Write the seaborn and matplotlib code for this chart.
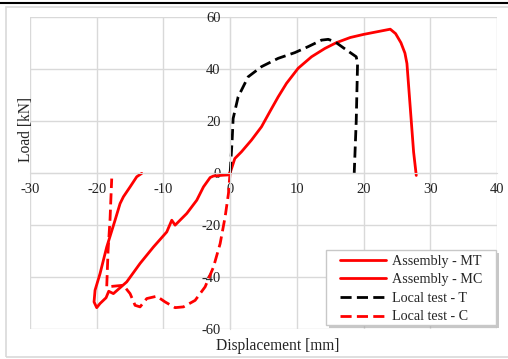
import matplotlib
matplotlib.use("Agg")
import matplotlib.pyplot as plt
import seaborn as sns
from matplotlib.lines import Line2D
from matplotlib.patches import Rectangle

# ---- data ----
mt_x = [0, 0.7, 1.7, 3.2, 4.7, 5.95, 7.2, 8.45, 10.2, 12.2, 14.2, 15.9, 18, 20, 22, 24, 24.8, 25.6,
        26.2, 26.5, 27.0, 27.5, 27.9]
mt_y = [0, 5.5, 8.1, 12.6, 17.7, 23.5, 29.2, 34.4, 40.2, 44.6, 47.8, 50, 52, 53.2, 54.2, 55.2, 53.5, 50,
        46, 42, 25, 8, -1]

mc_x = [0, -0.3, -1.0, -2.5, -3, -4, -5, -6.5, -8.25, -8.75, -9.5, -11.5, -13.5, -15.5, -17.5, -18.2,
        -18.6, -19.5, -20, -20.4, -20.25, -19.5, -18.5, -17.25, -16.5, -16, -15, -14, -13.25]
mc_y = [0, -0.8, -0.9, -1.2, -1.8, -5.4, -10.5, -15.6, -20.1, -18.2, -22.7, -28.5, -34.8, -41.9, -46.4, -45.5,
        -48, -50.2, -51.8, -49.6, -45.1, -38.7, -28.5, -18.2, -11.8, -9.2, -5.4, -1.5, -0.2]

t_x = [0, 0.3, 0.45, 1.2, 2.7, 4.7, 7.2, 9.7, 11.7, 13.7, 14.7, 15.7, 17, 18.9, 19.1, 18.9, 18.6]
t_y = [0, 12.6, 20.9, 29.2, 36.9, 40.8, 44, 46.2, 48.5, 51, 51.3, 50.4, 48, 44.6, 42, 20, 0]

c_x = [0, -0.25, -0.75, -1.5, -2.5, -3.75, -5.25, -7, -8.25, -9.75, -11, -12.5, -13.5, -14.25,
       -15, -16, -18.5, -18.3, -18.0, -17.75]
c_y = [0.5, -7.9, -16.9, -27.2, -36.2, -43.8, -49, -51.5, -51.8, -49.6, -47.4, -48.3, -51.5, -50.9,
       -46.4, -43.2, -43.8, -30, -17.7, -2.2]

x_ticks = [-30, -20, -10, 0, 10, 20, 30, 40]
y_ticks = [-60, -40, -20, 0, 20, 40, 60]
labels = ["Assembly - MT", "Assembly - MC", "Local test - T", "Local test - C"]

sns.set_style("white")
plt.rcParams["font.family"] = ["Liberation Serif", "DejaVu Serif"]
plt.rcParams["axes.unicode_minus"] = False

W, H = 508, 359
fig = plt.figure(figsize=(W / 100, H / 100), dpi=100)
ax = fig.add_axes([30 / W, 1 - 329 / H, (497 - 30) / W, (329 - 16.7) / H])

red = "#FF0000"
DASH = (4.0, 1.9)
LW = 2.0
sns.lineplot(x=mt_x, y=mt_y, sort=False, estimator=None, ax=ax, color=red, lw=LW)
sns.lineplot(x=mc_x, y=mc_y, sort=False, estimator=None, ax=ax, color=red, lw=LW)
sns.lineplot(x=t_x, y=t_y, sort=False, estimator=None, ax=ax, color="black", lw=LW)
sns.lineplot(x=c_x, y=c_y, sort=False, estimator=None, ax=ax, color=red, lw=LW)
ax.lines[2].set_dashes(DASH)
ax.lines[3].set_dashes(DASH)

ax.set_xlim(-30, 40)
ax.set_ylim(-60, 60)
ax.set_xticks(x_ticks)
ax.set_yticks(y_ticks)
ax.grid(True, color="#D9D9D9", lw=1)
ax.set_axisbelow(True)
for s in ["top", "right"]:
    ax.spines[s].set_visible(False)
ax.spines["left"].set_position(("data", 0))
ax.spines["bottom"].set_position(("data", 0))
ax.spines["left"].set_color("#D9D9D9")
ax.spines["bottom"].set_color("#D9D9D9")
ax.tick_params(length=0, labelsize=10.5, pad=7, colors="#222222")
ax.set_xlabel("")
ax.set_ylabel("")

fig.text(278 / W, 1 - 346 / H, "Displacement [mm]", ha="center", va="center", fontsize=11.2)
fig.text(26 / W, 1 - 130 / H, "Load [kN]", ha="center", va="center", rotation=90, fontsize=11.2)

# legend box (drawn manually, with shadow), then frameless legend inside it
bx0, by0, bx1, by1 = 326, 250, 496, 325
ax.add_patch(Rectangle((bx0 / W + 3 / W, 1 - (by1 + 3) / H), (bx1 - bx0) / W, (by1 - by0) / H,
                       transform=fig.transFigure, facecolor="#9A9A9A", edgecolor="none",
                       alpha=0.55, zorder=4.8, clip_on=False))
ax.add_patch(Rectangle((bx0 / W, 1 - by1 / H), (bx1 - bx0) / W, (by1 - by0) / H,
                       transform=fig.transFigure, facecolor="white", edgecolor="#C8C8C8",
                       lw=1, zorder=4.9, clip_on=False))
handles = [Line2D([], [], color=red, lw=LW),
           Line2D([], [], color=red, lw=LW),
           Line2D([], [], color="black", lw=LW, dashes=DASH),
           Line2D([], [], color=red, lw=LW, dashes=DASH)]
leg = ax.legend(handles, labels, loc="upper left", bbox_to_anchor=(340 / W, 1 - 254.5 / H),
                bbox_transform=fig.transFigure, fontsize=10.2, frameon=False,
                handlelength=3.25, handletextpad=0.42, labelspacing=0.4,
                borderpad=0, borderaxespad=0)
leg.set_zorder(5)

# outer frame and top rule
fig.add_artist(Rectangle((6 / W, 2 / H), 1.2, 1 - 9 / H, transform=fig.transFigure,
                         fill=False, edgecolor="#D9D9D9", lw=1.2))
fig.add_artist(Line2D([0, 1], [1 - 3 / H, 1 - 3 / H], transform=fig.transFigure,
                      color="black", lw=1.5))

fig.savefig("out.png", dpi=100)
